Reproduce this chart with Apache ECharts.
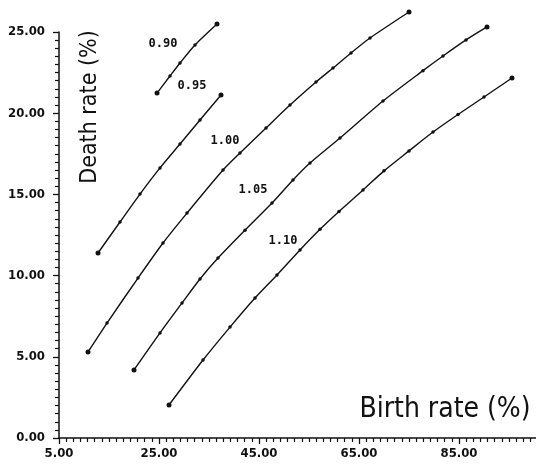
<!DOCTYPE html>
<html>
<head>
<meta charset="utf-8">
<script src="https://cdn.jsdelivr.net/npm/echarts@6/dist/echarts.min.js"></script>
<style>
html,body{margin:0;padding:0;background:#fff;}
#c{width:536px;height:468px;}
</style>
</head>
<body>
<div id="c"></div>
<script>
// Birth rate (x) and death rate (y) for each ratio curve
const x090 = [24.6, 27.2, 29.2, 32.2, 36.6];
const y090 = [21.24, 22.29, 23.09, 24.20, 25.49];

const x095 = [12.8, 17.2, 21.2, 25.2, 29.2, 33.2, 37.4];
const y095 = [11.39, 13.30, 15.02, 16.63, 18.10, 19.58, 21.12];

const x100 = [10.8, 14.6, 20.8, 25.8, 30.6, 37.8, 41.2, 46.4, 51.2, 56.4, 59.8, 63.4, 67.2, 75.0];
const y100 = [5.30, 7.08, 9.85, 12.01, 13.85, 16.50, 17.55, 19.09, 20.50, 21.92, 22.78, 23.71, 24.63, 26.23];

const x105 = [20.0, 25.2, 29.6, 33.2, 36.8, 42.2, 47.6, 51.8, 55.2, 61.2, 69.8, 77.8, 81.8, 86.4, 90.6];
const y105 = [4.19, 6.47, 8.31, 9.79, 11.08, 12.80, 14.47, 15.89, 16.93, 18.47, 20.75, 22.62, 23.52, 24.51, 25.31];

const x110 = [27.0, 33.8, 39.2, 44.2, 48.6, 53.2, 57.2, 61.0, 65.8, 70.0, 75.0, 79.8, 84.8, 90.0, 95.6];
const y110 = [2.03, 4.80, 6.83, 8.62, 10.04, 11.58, 12.85, 13.95, 15.27, 16.45, 17.68, 18.84, 19.92, 21.00, 22.17];

const curveNames = ['0.90', '0.95', '1.00', '1.05', '1.10'];
// label anchor positions (data coords) for curve labels
const labelX = [25.8, 31.6, 38.2, 43.8, 49.8];
const labelY = [24.26, 21.67, 18.29, 15.27, 12.13];

const xTickValues = [5, 25, 45, 65, 85];
const xTickLabels = ['5.00', '25.00', '45.00', '65.00', '85.00'];
const yTickValues = [0, 5, 10, 15, 20, 25];
const yTickLabels = ['0.00', '5.00', '10.00', '15.00', '20.00', '25.00'];

const xTitle = 'Birth rate (%)';
const yTitle = 'Death rate (%)';

const xs = [x090, x095, x100, x105, x110];
const ys = [y090, y095, y100, y105, y110];

const chart = echarts.init(document.getElementById('c'), null, {renderer: 'canvas'});

const INK = '#111';
const series = xs.map((xArr, i) => {
  const yArr = ys[i];
  const data = xArr.map((x, k) => {
    const item = {value: [x, yArr[k]]};
    if (k === 0 || k === xArr.length - 1) item.symbolSize = 5;
    return item;
  });
  return {
    type: 'line',
    name: curveNames[i],
    data: data,
    clip: false,
    symbol: 'circle',
    symbolSize: 3.5,
    smooth: 0.25,
    lineStyle: {color: INK, width: 1.4},
    itemStyle: {color: INK},
    emphasis: {disabled: true},
    markPoint: {
      symbol: 'circle',
      symbolSize: 0,
      silent: true,
      label: {
        show: true,
        position: 'inside',
        formatter: curveNames[i],
        fontFamily: 'DejaVu Sans Mono',
        fontWeight: 'bold',
        fontSize: 12,
        color: INK
      },
      data: [{coord: [labelX[i], labelY[i]]}]
    }
  };
});

const option = {
  backgroundColor: '#fff',
  animation: false,
  grid: {left: 59, width: 500, top: 32, bottom: 30, containLabel: false, outerBoundsMode: 'none'},
  xAxis: {
    type: 'value',
    min: 5,
    max: 105,
    interval: 20,
    axisLine: {show: true, onZero: false, lineStyle: {color: INK, width: 1.5}},
    axisTick: {show: true, length: 6, inside: false, lineStyle: {color: INK, width: 1.3}},
    minorTick: {show: true, splitNumber: 14, length: 4, lineStyle: {color: INK, width: 1.2}},
    splitLine: {show: false},
    minorSplitLine: {show: false},
    axisLabel: {
      margin: 9,
      fontFamily: 'DejaVu Sans Condensed',
      fontWeight: 'bold',
      fontSize: 13,
      color: INK,
      formatter: v => { const i = xTickValues.indexOf(v); return i >= 0 ? xTickLabels[i] : ''; }
    }
  },
  yAxis: {
    type: 'value',
    min: 0,
    max: 25,
    interval: 5,
    axisLine: {show: true, onZero: false, lineStyle: {color: INK, width: 1.5}},
    axisTick: {show: true, length: 6, inside: false, lineStyle: {color: INK, width: 1.3}},
    minorTick: {show: true, splitNumber: 10, length: 4, lineStyle: {color: INK, width: 1.2}},
    splitLine: {show: false},
    minorSplitLine: {show: false},
    axisLabel: {
      margin: 14,
      fontFamily: 'DejaVu Sans Condensed',
      fontWeight: 'bold',
      fontSize: 13,
      color: INK,
      formatter: v => { const i = yTickValues.indexOf(v); return i >= 0 ? yTickLabels[i] : ''; }
    }
  },
  graphic: [
    {
      type: 'text',
      x: 445, y: 410,
      silent: true,
      style: {
        text: xTitle,
        fontFamily: 'DejaVu Sans Condensed',
        fontSize: 28,
        fill: INK,
        align: 'center',
        verticalAlign: 'middle'
      }
    },
    {
      type: 'text',
      x: 90, y: 107,
      rotation: Math.PI / 2,
      silent: true,
      style: {
        text: yTitle,
        fontFamily: 'DejaVu Sans Condensed',
        fontSize: 23,
        fill: INK,
        align: 'center',
        verticalAlign: 'middle'
      }
    }
  ],
  series: series
};

chart.setOption(option);
</script>
</body>
</html>
